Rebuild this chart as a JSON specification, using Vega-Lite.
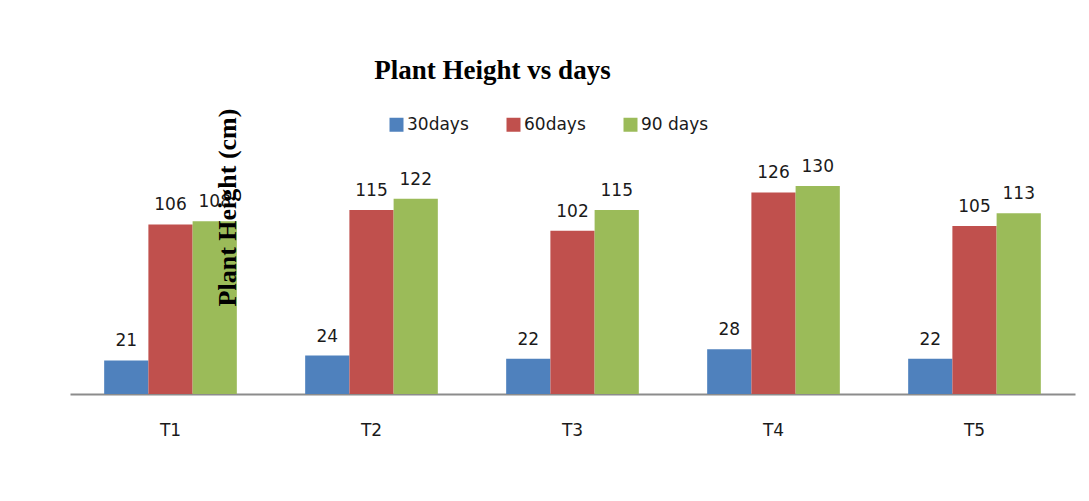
{
  "$schema": "https://vega.github.io/schema/vega-lite/v6.json",
  "autosize": {"type": "none"},
  "padding": {"left": 70, "top": 154, "right": 14, "bottom": 107},
  "width": 1005,
  "height": 240,
  "background": "white",
  "title": {
    "text": "Plant Height vs days",
    "font": "Liberation Serif",
    "fontSize": 27,
    "fontWeight": "bold",
    "color": "#000000",
    "anchor": "middle",
    "dx": -80,
    "offset": 23
  },
  "data": {
    "values": [
      {"treatment": "T1", "period": "30days", "height": 21},
      {"treatment": "T1", "period": "60days", "height": 106},
      {"treatment": "T1", "period": "90 days", "height": 108},
      {"treatment": "T2", "period": "30days", "height": 24},
      {"treatment": "T2", "period": "60days", "height": 115},
      {"treatment": "T2", "period": "90 days", "height": 122},
      {"treatment": "T3", "period": "30days", "height": 22},
      {"treatment": "T3", "period": "60days", "height": 102},
      {"treatment": "T3", "period": "90 days", "height": 115},
      {"treatment": "T4", "period": "30days", "height": 28},
      {"treatment": "T4", "period": "60days", "height": 126},
      {"treatment": "T4", "period": "90 days", "height": 130},
      {"treatment": "T5", "period": "30days", "height": 22},
      {"treatment": "T5", "period": "60days", "height": 105},
      {"treatment": "T5", "period": "90 days", "height": 113}
    ]
  },
  "encoding": {
    "x": {
      "field": "treatment",
      "type": "nominal",
      "scale": {"paddingInner": 0.34, "paddingOuter": 0.17},
      "axis": {
        "title": null,
        "labelAngle": 0,
        "labelFont": "DejaVu Sans",
        "labelFontSize": 17,
        "labelColor": "#1a1a1a",
        "labelPadding": 28,
        "ticks": false,
        "domainColor": "#8c8c8c",
        "domainWidth": 2
      }
    },
    "xOffset": {"field": "period", "type": "nominal", "sort": ["30days", "60days", "90 days"]},
    "y": {
      "field": "height",
      "type": "quantitative",
      "scale": {"domain": [0, 150], "nice": false},
      "axis": {
        "title": "Plant Height (cm)",
        "titleFont": "Liberation Serif",
        "titleFontSize": 26,
        "titleFontWeight": "bold",
        "titleColor": "#000000",
        "titleX": 170,
        "titleY": 53,
        "titleAngle": 270,
        "titleAlign": "center",
        "titleBaseline": "bottom",
        "labels": false,
        "ticks": false,
        "domain": false,
        "grid": false,
        "zindex": 2
      }
    }
  },
  "layer": [
    {
      "mark": {"type": "bar"},
      "encoding": {
        "color": {
          "field": "period",
          "type": "nominal",
          "sort": ["30days", "60days", "90 days"],
          "scale": {"domain": ["30days", "60days", "90 days"], "range": ["#4F81BD", "#C0504D", "#9BBB59"]},
          "legend": {
            "title": null,
            "orient": "none",
            "direction": "horizontal",
            "legendX": 318,
            "legendY": -38,
            "padding": 0,
            "symbolType": "square",
            "symbolSize": 196,
            "symbolStrokeWidth": 0,
            "symbolOpacity": 1,
            "labelFont": "DejaVu Sans",
            "labelFontSize": 17,
            "labelColor": "#1a1a1a",
            "labelOffset": 2,
            "columnPadding": 36
          }
        }
      }
    },
    {
      "mark": {"type": "text", "baseline": "alphabetic", "dy": -14, "font": "DejaVu Sans", "fontSize": 17, "color": "#1a1a1a"},
      "encoding": {
        "text": {"field": "height", "type": "quantitative"}
      }
    }
  ],
  "config": {"view": {"stroke": null}}
}
